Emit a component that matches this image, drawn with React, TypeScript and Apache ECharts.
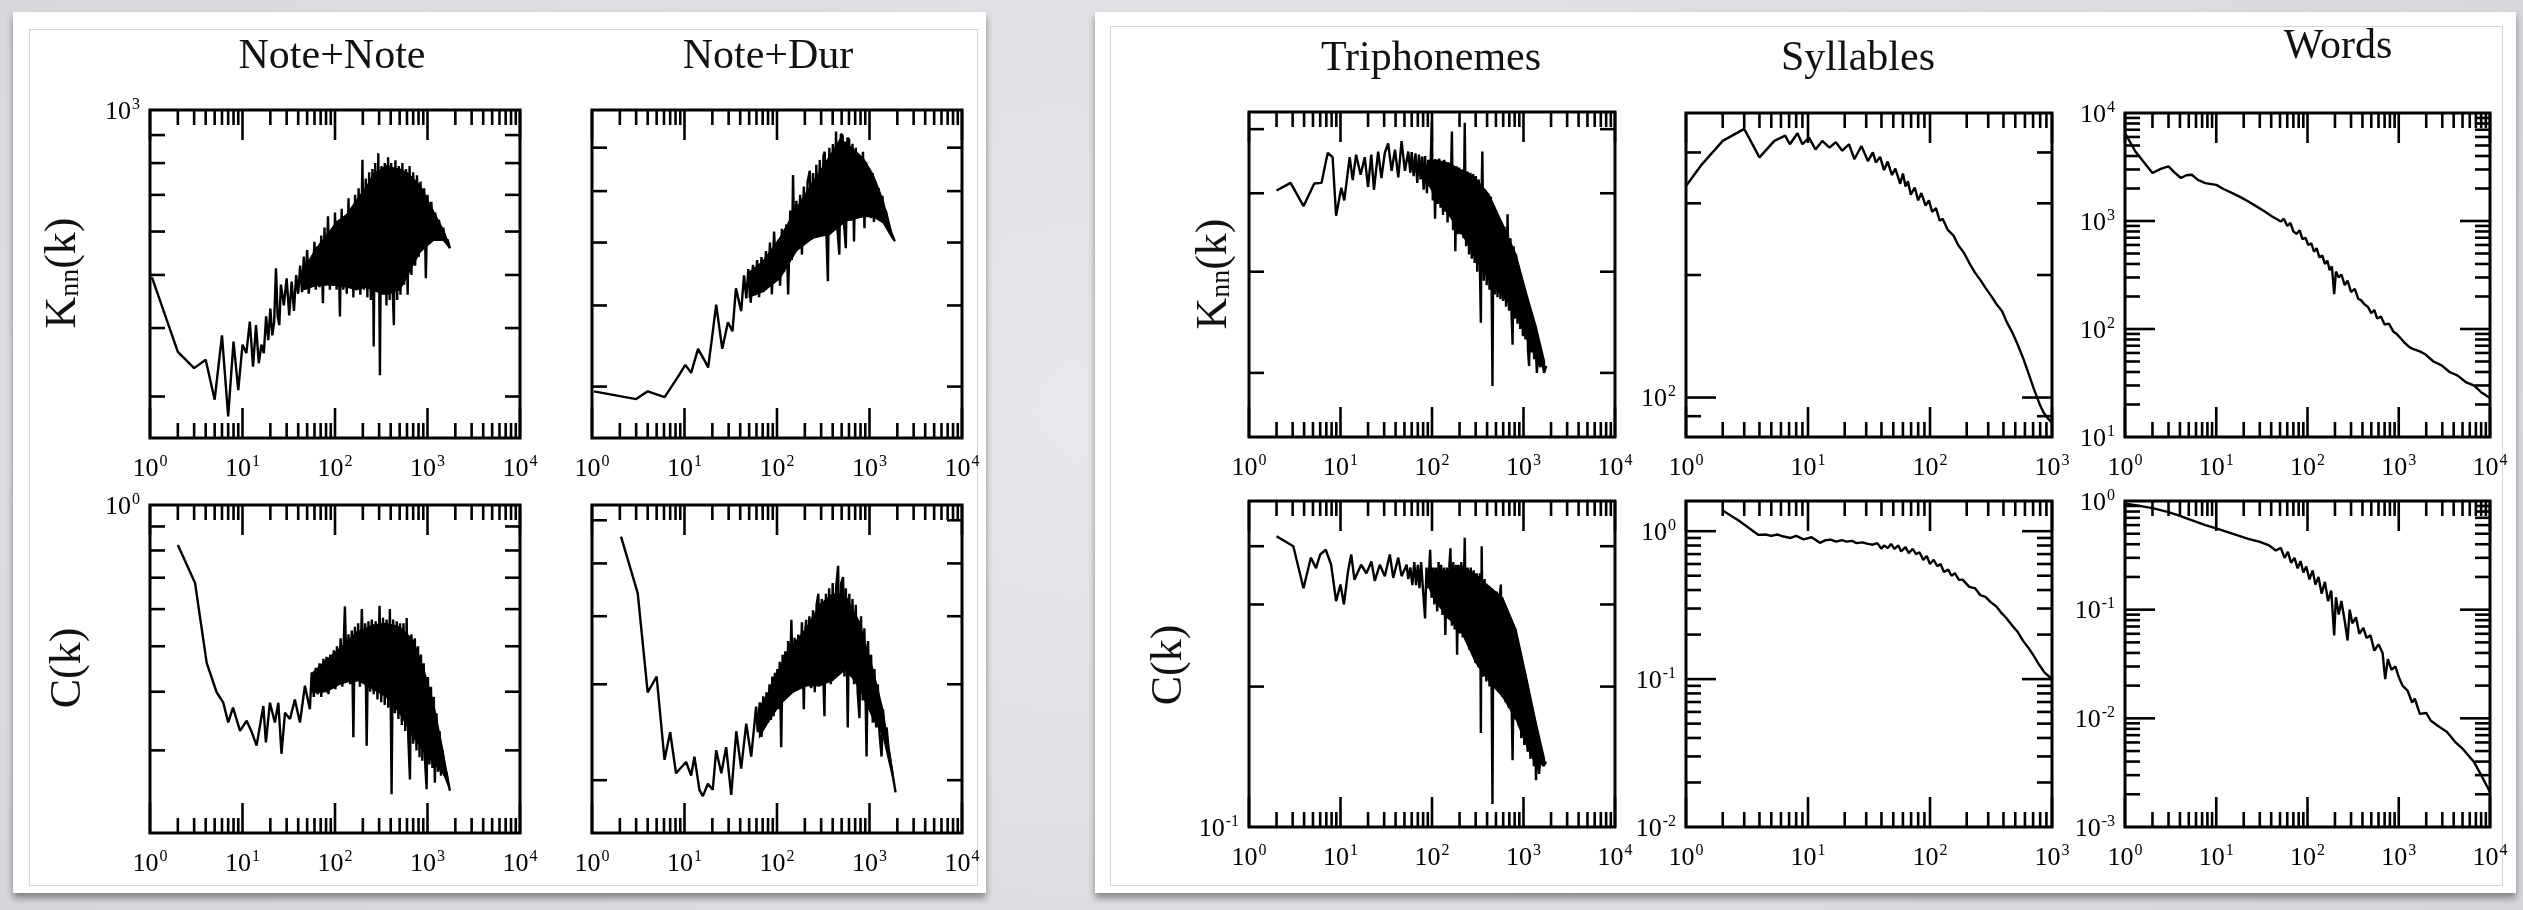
import React, { useEffect, useRef } from "react";
import * as echarts from "echarts";

const FONT = '"Liberation Serif", "Times New Roman", "DejaVu Serif", serif';

// ---------- texts ----------
const columnTitles = ["Note+Note", "Note+Dur", "Triphonemes", "Syllables", "Words"];
const knnMain = "K";
const knnSub = "nn";
const knnArg = "(k)";
const cName = "C(k)";

// ---------- data: Note+Note, Knn(k) ----------
const nnKnnLine = [[1.05,495],[2,362],[3,338],[4,350],[5,296],[6,388],[7,276],[8,378],[9,308],[10,373],[11,360],[12,411],[13,340],[14,405],[15,345],[16,373],[17,360],[18,420],[19,380],[20,434],[21,388],[22,410],[23,514],[24,420],[25,405],[26,480],[28,440],[30,493],[32,422],[34,486],[36,430],[38,500],[40,462],[42,520],[44,465],[46,540],[48,470],[50,555],[52,462],[55,530],[57,480],[60,575],[62,470],[65,560],[68,475],[71,590],[74,444],[77,610],[80,478],[84,640],[88,470],[92,600],[96,480],[100,650],[104,470],[108,620],[113,420],[118,660],[123,470],[128,640],[134,462],[140,690],[146,480],[152,660],[158,455],[165,700],[172,470],[180,720],[188,460],[198,811],[206,470],[215,750],[224,455],[234,770],[244,450],[254,780],[262,370],[272,800],[282,470],[294,834],[306,328],[318,790],[330,460],[345,800],[360,440],[375,820],[390,450],[405,800],[420,470],[433,405],[450,810],[470,450],[490,790],[510,460],[535,800],[560,480],[585,780],[610,460],[640,790],[670,500],[700,770],[735,520],[770,760],[805,540],[840,740],[880,560],[920,720],[960,493],[1000,700],[1050,570],[1100,680],[1150,580],[1210,650],[1270,590],[1330,630],[1400,580],[1480,610],[1560,575],[1650,580],[1745,559]];
const nnKnnBand = [[45,470,510],[63,478,560],[81,480,590],[104,478,625],[134,475,645],[171,470,685],[220,475,725],[259,468,765],[361,460,790],[504,470,780],[595,495,770],[828,550,730],[1155,578,655],[1480,578,605],[1700,562,570]];
const nnKnnYMinor = [300,400,500,600,700,800,900];
const nnKnnYLabels = [1000];

// ---------- data: Note+Dur, Knn(k) ----------
const ndKnnLine = [[1.05,295],[3,287],[4,295],[6.1,289],[8.8,313],[10.2,324],[11.8,315],[14,343],[16.5,329],[18,321],[19.5,350],[22,401],[25.6,343],[29.5,377],[33,365],[36,425],[41,392],[44,445],[46.6,410],[49,455],[52,404],[55,462],[58,415],[61,470],[64,412],[68,475],[72,420],[76,485],[80,430],[84,500],[88,416],[93,520],[98,440],[103,505],[108,429],[113,525],[119,450],[126,533],[132,416],[139,560],[145,470],[149,635],[155,482],[162,580],[170,490],[178,592],[186,479],[195,610],[204,500],[214,620],[226,645],[236,505],[245,640],[256,513],[266,659],[278,526],[290,670],[305,520],[318,680],[328,690],[340,530],[355,436],[368,700],[384,530],[402,709],[418,540],[435,741],[452,520],[472,479],[490,735],[512,731],[532,530],[555,490],[578,725],[602,721],[630,540],[655,710],[680,502],[710,700],[745,545],[785,682],[820,550],[850,690],[882,526],[920,665],[955,548],[990,650],[1040,545],[1080,640],[1116,538],[1170,620],[1220,550],[1260,606],[1320,545],[1380,590],[1420,545],[1500,560],[1600,538],[1700,520],[1875,502]];
const ndKnnBand = [[50,412,450],[70.5,420,468],[107,440,508],[162,485,565],[245,508,620],[372,515,680],[477,530,720],[563,540,712],[853,548,675],[1096,548,636],[1407,536,580],[1750,508,515]];
const ndKnnYMinor = [300,400,500,600,700];
const ndKnnYLabels: number[] = [];

// ---------- data: Note+Note, C(k) ----------
const nnCLine = [[2,0.822],[3.07,0.682],[4.1,0.461],[5.25,0.399],[6.2,0.379],[7,0.344],[7.9,0.37],[9.4,0.33],[11.1,0.347],[12.6,0.328],[14.2,0.307],[16.8,0.373],[17.9,0.312],[19.8,0.379],[22.4,0.344],[24.4,0.379],[26.4,0.295],[28.8,0.361],[32.6,0.35],[36.8,0.385],[41.8,0.344],[47.3,0.412],[53.5,0.367],[56,0.44],[59,0.39],[62,0.45],[65,0.395],[68,0.46],[71,0.39],[75,0.47],[78,0.40],[81,0.475],[85,0.395],[89,0.48],[93,0.41],[97,0.49],[101,0.405],[105,0.5],[110,0.415],[115,0.52],[120,0.41],[128,0.608],[134,0.42],[140,0.53],[146,0.415],[152,0.54],[158,0.32],[164,0.55],[171,0.42],[178,0.56],[186,0.41],[195,0.6],[204,0.42],[212,0.56],[220,0.307],[230,0.565],[240,0.40],[250,0.57],[262,0.395],[275,0.565],[288,0.385],[303,0.61],[316,0.38],[330,0.575],[345,0.375],[361,0.57],[376,0.37],[392,0.6],[409,0.242],[425,0.57],[445,0.36],[465,0.565],[485,0.35],[505,0.56],[528,0.34],[550,0.56],[575,0.33],[595,0.574],[620,0.32],[646,0.26],[670,0.53],[700,0.31],[730,0.52],[760,0.3],[790,0.5],[820,0.29],[850,0.48],[880,0.285],[910,0.46],[945,0.28],[978,0.248],[1010,0.43],[1050,0.28],[1090,0.41],[1130,0.275],[1170,0.39],[1200,0.256],[1250,0.36],[1300,0.27],[1350,0.33],[1400,0.265],[1450,0.3],[1520,0.265],[1600,0.27],[1745,0.246]];
const nnCBand = [[58,0.398,0.44],[81,0.4,0.468],[113,0.415,0.495],[171,0.425,0.535],[259,0.405,0.555],[361,0.39,0.56],[504,0.36,0.55],[701,0.32,0.515],[902,0.3,0.45],[1155,0.283,0.38],[1480,0.268,0.298],[1700,0.25,0.255]];
const nnCYMinor = [0.3,0.4,0.5,0.6,0.7,0.8,0.9];
const nnCYLabels = [1];

// ---------- data: Note+Dur, C(k) ----------
const ndCLine = [[2.06,0.56],[3.12,0.441],[4,0.29],[5,0.31],[6.08,0.218],[7,0.245],[8.1,0.206],[10.4,0.216],[11.8,0.204],[12.8,0.221],[14.5,0.192],[15.8,0.187],[17.9,0.197],[20.2,0.192],[22,0.227],[25,0.206],[28.2,0.23],[32,0.188],[36.3,0.246],[41,0.21],[46.5,0.254],[52.6,0.221],[59.5,0.273],[62,0.245],[65,0.278],[68,0.24],[71,0.285],[74,0.25],[77,0.29],[80,0.255],[83,0.3],[86,0.258],[89,0.31],[92,0.262],[95,0.315],[98,0.27],[101,0.32],[104,0.27],[107,0.33],[111,0.23],[115,0.34],[119,0.28],[123,0.345],[127,0.285],[132,0.36],[137,0.29],[143,0.394],[149,0.29],[155,0.365],[162,0.295],[170,0.37],[178,0.3],[186,0.39],[195,0.27],[203,0.38],[207,0.394],[214,0.3],[224,0.4],[234,0.295],[245,0.41],[256,0.29],[268,0.42],[280,0.44],[292,0.3],[305,0.43],[318,0.3],[326,0.262],[338,0.44],[352,0.31],[366,0.45],[382,0.3],[400,0.46],[418,0.31],[435,0.45],[458,0.495],[475,0.32],[495,0.46],[518,0.472],[535,0.31],[555,0.45],[582,0.25],[605,0.44],[630,0.31],[655,0.43],[680,0.3],[710,0.42],[745,0.29],[779,0.26],[810,0.40],[845,0.28],[880,0.38],[930,0.221],[965,0.36],[1000,0.27],[1040,0.34],[1085,0.255],[1130,0.32],[1180,0.25],[1230,0.3],[1280,0.245],[1350,0.221],[1400,0.27],[1460,0.24],[1530,0.25],[1600,0.23],[1700,0.215],[1913,0.19]];
const ndCBand = [[64.5,0.24,0.272],[83,0.258,0.292],[107,0.275,0.322],[149,0.29,0.355],[207,0.298,0.38],[288,0.298,0.42],[401,0.305,0.44],[557,0.32,0.435],[779,0.295,0.39],[1085,0.26,0.32],[1393,0.242,0.27],[1800,0.2,0.205]];
const ndCYMinor = [0.2,0.3,0.4,0.5,0.6];
const ndCYLabels: number[] = [];

// ---------- data: Triphonemes ----------
const triKnnLine = [[2,504],[2.85,515],[3.94,482],[5.17,514],[6.2,515],[7.25,561],[8.2,554],[8.95,469],[10.2,508],[11,490],[12.6,554],[13.6,519],[14.8,558],[16.6,527],[18.4,554],[20,509],[21.7,558],[23.2,505],[25.8,563],[28,522],[30.5,561],[33.2,576],[36.2,533],[39.4,566],[42.8,523],[46.5,580],[50.6,533],[55,563],[58,530],[60,562],[63,525],[66,560],[69,515],[72,558],[75,520],[78,555],[81,505],[84,556],[88,500],[91,550],[94,510],[97,552],[99.6,613],[102,490],[105,548],[108,465],[112,550],[116,485],[120,552],[124,480],[128,548],[132,470],[136,550],[140,475],[144,545],[148,460],[152,545],[158,470],[165,596],[170,450],[175,540],[180,424],[186,540],[192,445],[198,538],[205,445],[214,535],[221,440],[228,611],[236,430],[245,532],[254,420],[263,530],[272,415],[282,528],[292,410],[302,525],[312,400],[324,520],[335,395],[342,346],[350,515],[355,563],[368,390],[382,505],[396,385],[410,500],[425,380],[440,495],[458,289],[470,480],[485,375],[500,470],[520,372],[540,465],[560,370],[580,460],[600,368],[620,455],[645,362],[670,471],[695,358],[720,440],[740,355],[760,325],[780,430],[805,350],[830,420],[860,345],[890,400],[920,340],[950,390],[985,333],[1020,380],[1050,330],[1090,370],[1120,320],[1150,306],[1190,355],[1230,318],[1270,340],[1310,312],[1350,330],[1400,300],[1450,320],[1520,305],[1600,310],[1680,300],[1770,306]];
const triKnnBand = [[90,515,545],[108,495,550],[152,470,545],[214,445,533],[300,415,522],[422,390,498],[592,373,458],[831,357,420],[1067,335,378],[1370,315,343],[1700,305,310]];
const triKnnYMinor = [300,400,500,600];
const triKnnYLabels: number[] = [];

const triCLine = [[2,0.42],[3.05,0.40],[3.94,0.325],[4.74,0.378],[5.4,0.359],[6,0.384],[6.9,0.393],[7.9,0.365],[8.95,0.305],[10,0.331],[10.9,0.3],[12.1,0.354],[13.1,0.384],[14.2,0.339],[16.8,0.365],[19.2,0.35],[21.8,0.371],[23.7,0.337],[26.9,0.365],[30.5,0.345],[34.6,0.384],[37.7,0.342],[42.8,0.378],[46.5,0.345],[52.8,0.365],[55,0.34],[58,0.36],[61,0.33],[64,0.37],[67,0.33],[70,0.365],[73,0.325],[76,0.37],[80,0.32],[84,0.28],[87,0.36],[91,0.325],[95.5,0.393],[99,0.31],[103,0.36],[106,0.3],[110,0.36],[114,0.29],[118,0.37],[122,0.3],[126,0.365],[130,0.285],[135,0.36],[140,0.258],[145,0.36],[150,0.28],[155,0.365],[159,0.396],[165,0.27],[171,0.37],[177,0.265],[183,0.365],[188,0.234],[195,0.365],[202,0.26],[209,0.37],[217,0.255],[228,0.417],[236,0.25],[245,0.36],[255,0.24],[265,0.36],[275,0.235],[285,0.355],[297,0.225],[310,0.35],[322,0.22],[335,0.35],[342,0.159],[349,0.4],[362,0.21],[376,0.34],[392,0.205],[408,0.33],[425,0.2],[440,0.325],[458,0.112],[470,0.32],[490,0.2],[510,0.32],[530,0.195],[550,0.31],[565,0.331],[590,0.19],[615,0.3],[640,0.185],[665,0.29],[690,0.18],[720,0.28],[745,0.175],[760,0.139],[790,0.26],[820,0.17],[850,0.245],[880,0.165],[910,0.23],[945,0.155],[980,0.215],[1020,0.15],[1067,0.205],[1110,0.145],[1150,0.19],[1190,0.14],[1240,0.175],[1300,0.135],[1340,0.16],[1370,0.126],[1420,0.155],[1480,0.13],[1550,0.145],[1650,0.135],[1770,0.138]];
const triCBand = [[90,0.33,0.355],[108,0.305,0.352],[152,0.28,0.355],[214,0.26,0.362],[300,0.225,0.348],[422,0.205,0.328],[592,0.19,0.31],[831,0.17,0.265],[1067,0.15,0.212],[1370,0.136,0.168],[1700,0.136,0.14]];
const triCYMinor = [0.2,0.3,0.4];
const triCYLabels = [0.1];

// ---------- data: Syllables ----------
const sylKnnLine = [[1,331],[1.35,374],[2,427],[3,457],[4,389],[5.3,427],[6.5,440],[7.1,419],[8.2,446],[9,419],[10.2,435],[11.5,407],[13.1,427],[15,411],[16.9,424],[19.1,404],[21.7,419],[24,385],[27.4,415],[31,381],[34,400],[36,378],[39,390],[42,362],[45,380],[48.8,352],[52,365],[57,335],[60,355],[63,330],[66,340],[69.5,315],[75,328],[80,305],[85,318],[92,296],[98,305],[104,286],[112,292],[120,272],[127,275],[140,258],[156,250],[170,237],[191,226],[210,214],[233,203],[260,194],[285,186],[320,177],[349,170],[390,163],[427,153],[470,145],[523,135],[580,125],[640,115],[710,105],[784,97],[850,92],[920,89],[990,87]];
const sylKnnYMinor = [90,200,300,400];
const sylKnnYMajor = [100];
const sylKnnYLabels = [100];

const sylCLine = [[2,1.38],[2.7,1.18],[3.9,0.945],[4.5,0.95],[5,0.93],[5.6,0.95],[6.3,0.92],[7.2,0.9],[8,0.93],[9.2,0.88],[10.7,0.91],[12.5,0.834],[14,0.87],[15.3,0.876],[17,0.85],[19,0.87],[20.7,0.85],[23,0.86],[25,0.83],[28,0.84],[31,0.82],[34,0.81],[37,0.83],[40,0.76],[42,0.80],[45,0.77],[48,0.82],[51,0.76],[55,0.80],[58,0.73],[63,0.78],[67,0.71],[72,0.76],[77,0.70],[82,0.72],[88,0.64],[94,0.68],[100,0.6],[107,0.64],[115,0.58],[122,0.6],[130,0.53],[141,0.55],[150,0.5],[160,0.52],[172,0.47],[185,0.47],[210,0.42],[235,0.41],[258,0.37],[285,0.36],[316,0.33],[350,0.31],[385,0.28],[420,0.26],[472,0.23],[520,0.21],[578,0.182],[640,0.163],[707,0.144],[780,0.126],[867,0.111],[1000,0.1]];
const sylCYMajor = [0.1, 1];
const sylCYLabels = [1, 0.1, 0.01];

// ---------- data: Words ----------
const wordsKnnLine = [[1,6500],[1.3,4400],[2,2780],[2.5,3050],[3,3200],[3.5,2800],[4.1,2500],[4.7,2650],[5.4,2680],[6.3,2400],[7.6,2240],[10,2160],[12,1980],[15,1810],[18,1680],[22.5,1515],[27,1380],[34,1224],[41,1100],[51,988],[55,1050],[60,900],[65,960],[70,800],[76,760],[82,820],[88,680],[95,700],[102,600],[110,620],[118,520],[126,560],[135,460],[145,480],[155,400],[165,430],[175,350],[185,380],[196,210],[205,340],[220,300],[235,320],[256,255],[275,280],[300,220],[330,235],[360,190],[385,185],[420,170],[460,160],[500,140],[540,150],[580,125],[640,130],[700,110],[780,112],[870,95],[950,90],[1050,82],[1150,75],[1310,68],[1450,65],[1700,62],[1970,58],[2400,50],[2950,46],[3600,40],[4430,37],[5500,32],[6640,30],[8000,26],[10000,23]];
const wordsKnnYMajor = [100, 1000];
const wordsKnnYLabels = [10000, 1000, 100, 10];

const wordsCLine = [[1,0.95],[2,0.86],[3,0.79],[4,0.73],[5,0.68],[7.6,0.6],[10,0.56],[15,0.5],[22,0.45],[30,0.42],[38,0.39],[45,0.35],[51,0.37],[56,0.3],[61,0.34],[66,0.27],[72,0.3],[78,0.24],[84,0.28],[90,0.22],[97,0.25],[105,0.19],[114,0.23],[122,0.17],[132,0.2],[143,0.14],[155,0.18],[168,0.12],[182,0.15],[196,0.058],[205,0.13],[220,0.09],[235,0.12],[255,0.08],[275,0.052],[290,0.1],[310,0.075],[340,0.085],[370,0.06],[410,0.068],[443,0.055],[490,0.058],[540,0.042],[600,0.048],[665,0.04],[710,0.023],[760,0.035],[830,0.028],[920,0.03],[1000,0.024],[1100,0.02],[1250,0.018],[1400,0.014],[1500,0.0152],[1700,0.011],[2000,0.0112],[2250,0.0095],[2700,0.0085],[3380,0.0075],[4200,0.006],[5070,0.0052],[6000,0.0044],[6640,0.004],[8000,0.003],[10000,0.0021]];
const wordsCYMajor = [0.01, 0.1];
const wordsCYLabels = [1, 0.1, 0.01, 0.001];

// ---------- tick helpers (axis ticks at 2..9 x decade) ----------
function minorTicks(lo: number, hi: number) {
  const out: number[] = [];
  for (let e = Math.round(Math.log10(lo)); e < Math.round(Math.log10(hi)); e++) {
    for (let m = 2; m <= 9; m++) out.push(m * Math.pow(10, e));
  }
  return out;
}
function majorTicks(lo: number, hi: number) {
  const out: number[] = [];
  for (let e = Math.round(Math.log10(lo)); e <= Math.round(Math.log10(hi)); e++) out.push(Math.pow(10, e));
  return out;
}

// ---------- panel definitions ----------
const PANELS: any[] = [
  { left: 150, top: 110, width: 370, height: 328, xMin: 1, xMax: 1e4, yMin: 252, yMax: 1000, line: nnKnnLine, band: nnKnnBand, yMinor: nnKnnYMinor, yMajor: [], yLabels: nnKnnYLabels },
  { left: 592, top: 110, width: 370, height: 328, xMin: 1, xMax: 1e4, yMin: 250, yMax: 800, line: ndKnnLine, band: ndKnnBand, yMinor: ndKnnYMinor, yMajor: [], yLabels: ndKnnYLabels },
  { left: 150, top: 505, width: 370, height: 328, xMin: 1, xMax: 1e4, yMin: 0.2, yMax: 1, line: nnCLine, band: nnCBand, yMinor: nnCYMinor, yMajor: [], yLabels: nnCYLabels },
  { left: 592, top: 505, width: 370, height: 328, xMin: 1, xMax: 1e4, yMin: 0.16, yMax: 0.64, line: ndCLine, band: ndCBand, yMinor: ndCYMinor, yMajor: [], yLabels: ndCYLabels },
  { left: 1249, top: 112, width: 366, height: 325, xMin: 1, xMax: 1e4, yMin: 250, yMax: 630, line: triKnnLine, band: triKnnBand, yMinor: triKnnYMinor, yMajor: [], yLabels: triKnnYLabels },
  { left: 1249, top: 501, width: 366, height: 326, xMin: 1, xMax: 1e4, yMin: 0.1, yMax: 0.5, line: triCLine, band: triCBand, yMinor: triCYMinor, yMajor: [], yLabels: triCYLabels },
  { left: 1686, top: 113, width: 366, height: 324, xMin: 1, xMax: 1e3, yMin: 80, yMax: 500, line: sylKnnLine, band: null, yMinor: sylKnnYMinor, yMajor: sylKnnYMajor, yLabels: sylKnnYLabels },
  { left: 1686, top: 501, width: 366, height: 326, xMin: 1, xMax: 1e3, yMin: 0.01, yMax: 1.6, line: sylCLine, band: null, yMinor: minorTicks(0.01, 1), yMajor: sylCYMajor, yLabels: sylCYLabels },
  { left: 2125, top: 113, width: 365, height: 324, xMin: 1, xMax: 1e4, yMin: 10, yMax: 1e4, line: wordsKnnLine, band: null, yMinor: minorTicks(10, 1e4), yMajor: wordsKnnYMajor, yLabels: wordsKnnYLabels },
  { left: 2125, top: 501, width: 365, height: 326, xMin: 1, xMax: 1e4, yMin: 0.001, yMax: 1, line: wordsCLine, band: null, yMinor: minorTicks(0.001, 1), yMajor: wordsCYMajor, yLabels: wordsCYLabels },
];

const TITLE_POS = [[332, 54], [768, 54], [1431, 56], [1858, 56], [2338, 44]];
const KNN_POS = [[60, 273], [1211, 274]];
const C_POS = [[65, 668], [1166, 665]];

const RICH = {
  b: { fontFamily: FONT, fontSize: 26, color: "#000" },
  s: { fontFamily: FONT, fontSize: 16, color: "#000", padding: [0, 0, 14, 1] },
};

function isDecade(v: number) {
  const l = Math.log10(v);
  return Math.abs(l - Math.round(l)) < 1e-6;
}
function powLabel(v: number, allowed: number[] | null) {
  if (!isDecade(v)) return "";
  const e = Math.round(Math.log10(v));
  if (allowed && !allowed.some((a) => Math.abs(Math.log10(a) - e) < 1e-6)) return "";
  return `{b|10}{s|${e}}`;
}

function buildOption() {
  const grid = PANELS.map((p) => ({
    left: p.left, top: p.top, width: p.width, height: p.height,
    show: true, borderColor: "#000", borderWidth: 3, backgroundColor: "transparent",
    containLabel: false, outerBoundsMode: "none",
  }));
  const baseAxis = {
    type: "log", logBase: 10,
    axisLine: { show: false }, axisTick: { show: false }, minorTick: { show: false },
    splitLine: { show: false }, minorSplitLine: { show: false },
  };
  const xAxis = PANELS.map((p, i) => ({
    ...baseAxis, gridIndex: i, min: p.xMin, max: p.xMax,
    axisLabel: { show: true, margin: 14, color: "#000", fontFamily: FONT, rich: RICH, showMinLabel: true, showMaxLabel: true, hideOverlap: false, formatter: (v: number) => powLabel(v, null) },
  }));
  const yAxis = PANELS.map((p, i) => ({
    ...baseAxis, gridIndex: i, min: p.yMin, max: p.yMax,
    axisLabel: { show: true, margin: 10, color: "#000", fontFamily: FONT, rich: RICH, showMinLabel: true, showMaxLabel: true, hideOverlap: false, formatter: (v: number) => powLabel(v, p.yLabels) },
  }));

  const series: any[] = [];
  PANELS.forEach((p, i) => {
    if (p.band) {
      const band = p.band;
      series.push({
        type: "custom", xAxisIndex: i, yAxisIndex: i, data: band, silent: true, z: 2,
        renderItem: (params: any, api: any) => {
          const k = params.dataIndex;
          if (k >= band.length - 1) return { type: "group", children: [] };
          const a = band[k], b = band[k + 1];
          const pts = [api.coord([a[0], a[1]]), api.coord([b[0], b[1]]), api.coord([b[0], b[2]]), api.coord([a[0], a[2]])];
          return { type: "polygon", shape: { points: pts }, style: { fill: "#000", stroke: "#000", lineWidth: 1.2 } };
        },
      });
    }
    series.push({
      type: "line", xAxisIndex: i, yAxisIndex: i, data: p.line, symbol: "none", showSymbol: false,
      lineStyle: { color: "#000", width: 2.4 }, z: 3, silent: true,
    });
    const xMin = minorTicks(p.xMin, p.xMax);
    const xMaj = majorTicks(p.xMin, p.xMax);
    series.push({
      type: "custom", xAxisIndex: i, yAxisIndex: i, data: [[p.xMin, p.yMin]], silent: true, z: 4, clip: false,
      renderItem: (params: any, api: any) => {
        const cs = params.coordSys;
        const L = cs.x, T = cs.y, R = cs.x + cs.width, B = cs.y + cs.height;
        const ch: any[] = [];
        const ln = (x1: number, y1: number, x2: number, y2: number) => ({
          type: "line", shape: { x1, y1, x2, y2 }, style: { stroke: "#000", lineWidth: 2.6 },
        });
        xMaj.forEach((v) => { const x = api.coord([v, p.yMin])[0]; ch.push(ln(x, B, x, B - 30), ln(x, T, x, T + 30)); });
        xMin.forEach((v) => { const x = api.coord([v, p.yMin])[0]; ch.push(ln(x, B, x, B - 15), ln(x, T, x, T + 15)); });
        p.yMinor.forEach((v: number) => { const y = api.coord([p.xMin, v])[1]; ch.push(ln(L, y, L + 15, y), ln(R, y, R - 15, y)); });
        p.yMajor.forEach((v: number) => { const y = api.coord([p.xMin, v])[1]; ch.push(ln(L, y, L + 30, y), ln(R, y, R - 30, y)); });
        return { type: "group", children: ch };
      },
    });
  });

  const nameRich = {
    k: { fontFamily: FONT, fontSize: 44, fill: "#111", color: "#111" },
    n: { fontFamily: FONT, fontSize: 28, fill: "#111", color: "#111", padding: [16, 0, 0, 0] },
  };
  const graphic: any[] = [];
  columnTitles.forEach((t, i) => {
    graphic.push({
      type: "text", x: TITLE_POS[i][0], y: TITLE_POS[i][1], silent: true,
      style: { text: t, font: `42px ${FONT}`, fill: "#111", align: "center", verticalAlign: "middle" },
    });
  });
  KNN_POS.forEach(([x, y]) => {
    graphic.push({
      type: "text", x, y, rotation: Math.PI / 2, silent: true,
      style: { text: `{k|${knnMain}}{n|${knnSub}}{k|${knnArg}}`, rich: nameRich, align: "center", verticalAlign: "middle" },
    });
  });
  C_POS.forEach(([x, y]) => {
    graphic.push({
      type: "text", x, y, rotation: Math.PI / 2, silent: true,
      style: { text: cName, font: `44px ${FONT}`, fill: "#111", align: "center", verticalAlign: "middle" },
    });
  });

  return {
    animation: false,
    textStyle: { fontFamily: FONT },
    grid, xAxis, yAxis, series, graphic,
  };
}

export default function App() {
  const ref = useRef<HTMLDivElement>(null);
  useEffect(() => {
    if (!ref.current) return;
    const chart = echarts.init(ref.current, null, { renderer: "svg" });
    chart.setOption(buildOption() as any);
    return () => chart.dispose();
  }, []);
  return (
    <div style={{ position: "fixed", left: 0, top: 0, width: 2523, height: 910, overflow: "hidden",
      background: "radial-gradient(ellipse at 50% 45%, #e8e9ec 0%, #dfe0e3 60%, #d5d6d9 100%)" }}>
      <div style={{ position: "absolute", left: 13, top: 12, width: 973, height: 881, background: "#fff", boxShadow: "0 5px 7px rgba(0,0,0,0.4)" }} />
      <div style={{ position: "absolute", left: 29, top: 29, width: 949, height: 857, border: "1px solid #d6d6d6", boxSizing: "border-box" }} />
      <div style={{ position: "absolute", left: 1095, top: 12, width: 1421, height: 881, background: "#fff", boxShadow: "0 5px 7px rgba(0,0,0,0.4)" }} />
      <div style={{ position: "absolute", left: 1110, top: 26, width: 1393, height: 860, border: "1px solid #d6d6d6", boxSizing: "border-box" }} />
      <div ref={ref} style={{ position: "absolute", left: 0, top: 0, width: 2523, height: 910 }} />
    </div>
  );
}
